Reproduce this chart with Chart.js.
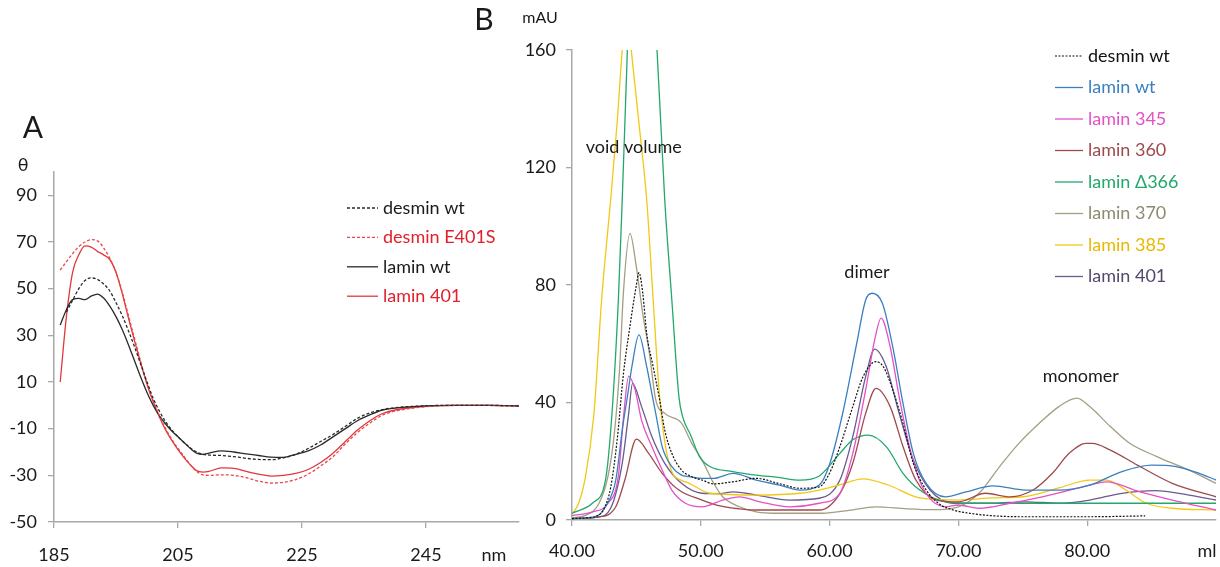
<!DOCTYPE html>
<html>
<head>
<meta charset="utf-8">
<script src="https://cdn.jsdelivr.net/npm/chart.js@4.4.1/dist/chart.umd.min.js"></script>
<style>
  body { margin: 0; background: #fff; }
  #wrap { position: relative; width: 1220px; height: 567px; overflow: hidden; }
  canvas { position: absolute; top: 0; }
  #cdA { left: 0; }
  #cdB { left: 460px; }
</style>
</head>
<body>
<div id="wrap">
  <canvas id="cdA" width="530" height="567"></canvas>
  <canvas id="cdB" width="760" height="567"></canvas>
</div>
<script>
const FONT = "Lato, 'DejaVu Sans', sans-serif";

// ---- panel A : CD spectra (theta vs nm) ----
const nmA = [186,187,188,189,190,191,192,193,194,195,196,197,198,199,200,201,202,203,204,205,206,207,208,209,210,
             212,214,216,218,220,222,224,226,228,230,232,234,236,238,240,245,250,255,260];
const desminWtA = [null,40,45,50,53.5,54.6,54,52,49,44,38.5,32,25,17.5,10,3,-2.5,-7,-10.5,-13.5,-16,-18.3,-20,-21,-21.3,
             -21.5,-22,-22.7,-23.2,-23.3,-22.5,-21,-18.5,-15.5,-12.5,-9,-5.5,-3.2,-1.8,-1,-0.2,0,0,-0.3];
const desminE401S = [58,61.5,65,68,70,71,70.5,67.5,63,57,48.5,38.5,28.5,18.5,9.5,2,-4.5,-10,-14.5,-18.5,-22,-25.5,-28.3,-29.8,-30,
             -29.8,-30,-31,-32.5,-33.3,-33,-31.8,-29.5,-26,-22,-16.5,-11.5,-7.5,-4.2,-2.5,-0.6,0,0,-0.3];
const laminWtA = [34.4,41,45.3,45.8,45.3,46.8,47.7,46,42.5,38,32.5,26,19,12,5.5,0,-4.5,-8,-11,-13.5,-16,-18.5,-20.5,-21,-20.5,
             -19.5,-20,-20.8,-21.5,-22.2,-22.3,-21,-19.5,-17,-13.5,-10,-6.5,-4,-2,-1.2,-0.2,0,0,-0.2];
const lamin401A = [10,38,57,64.5,68.3,67.8,66,64.5,62.5,57,48,37.5,27.5,18,9,1.5,-5,-10.5,-15,-19,-22.5,-25.5,-28,-28.6,-28.3,
             -26.8,-27,-28.3,-29.5,-30.3,-30,-29.2,-27.5,-24.5,-20.5,-15.5,-10.5,-6.5,-3.5,-2,-0.4,0,0,-0.2];
const xTicksA = [185, 205, 225, 245];
const yTicksA = [-50, -30, -10, 10, 30, 50, 70, 90];

// ---- panel B : gel filtration (mAU vs ml) ----
const desminWtX = [40,41,42,42.5,43,43.5,44,44.5,45,45.2,45.5,45.8,46.3,46.8,47.2,47.75,48.5,49.3,50.1,51,
                   52.5,54.3,56,57.7,59.2,60,60.8,61.8,62.6,63.6,64.2,64.9,65.7,66.5,67.5,68.5,69.6,71,72.5,75,80,84.5];
const desminWtY = [0.5,0.7,1.5,4,11,27,50,66,80,84.2,77,63.5,52.2,41,30.6,22.7,17,14.7,13.6,12.3,
                   13,14.2,12.5,10.8,11.3,16,25,38.6,48.8,53.9,52,44.3,32.9,19.3,10.2,5.5,3.4,2.2,1.5,1.1,1.1,1.4];

const laminWtX = [40,41,42,42.6,43.4,43.9,44.3,44.65,45.2,45.8,46.3,46.5,47,47.75,48.5,49.1,50.1,51,52.5,54.3,
                  56.1,57.7,59.2,60,61,62.1,62.8,63.3,64.1,64.9,65.7,66.5,67.5,69,70.6,72.7,75.2,77.8,80.2,82.7,85,86.9,88.7,90];
const laminWtY = [0.5,0.7,1.5,4.5,13.6,30.6,42,52.2,63,52.2,40.8,36.3,25,18.2,15.3,14.8,14.2,14.2,15.9,13.6,
                  11.9,10.2,11.9,19,36,60,74.9,77.2,73.8,59,39.7,22.7,12.5,7.9,9.6,11.6,10.2,10.2,11.9,16.5,18.7,18.2,15.9,13.6];

const lamin345X = [40,41.6,42.8,43.6,44,44.4,44.9,45.4,46.2,47,47.75,48.8,50.1,51.7,53,54.6,56.9,59.2,60.8,61.8,
                   62.8,63.5,64,64.7,65.4,66.2,67.2,69,70,71.6,74,76.5,78.5,80.2,81.5,84.1,86.6,90];
const lamin345Y = [1.5,2.8,5.7,15,35,49,44.3,34,25,17,10.2,5.7,4.5,6.8,7.9,6.2,4.5,5.7,9.1,22.7,
                   44.3,61.3,68.7,59,42,25,11.3,4.5,5.1,4,5.7,7.9,10,11.9,13,9.6,6.8,3.4];

const lamin360X = [40,42,43.4,44.1,45,45.95,47,48.3,50.1,51.5,53,54.3,57,59.2,60.8,61.8,62.8,63.6,64.7,65.7,
                   66.7,68.3,70,72.1,74,75.8,77.3,78.6,79.9,80.4,81.8,84.1,86.6,90];
const lamin360Y = [0.5,1,4.5,13.6,27.5,22.7,15.9,10.2,6.8,4.8,3.8,3.4,3.4,3.4,9,19.3,36.3,44.8,38.6,25,
                   13.6,6.8,6.2,9.1,7.9,10.2,15.9,22.7,26.1,26.1,23.8,18.2,12.5,7.9];

const lamin366X = [40,41.6,42.6,43.1,43.6,43.9,44.3,44.8,45.4,46,46.6,47.2,47.75,48.3,48.6,49.2,49.9,50.7,52.5,54.3,
                   56,57.7,59.2,60.8,61.8,63,64.4,65.7,67,69,71,75,80,85,90];
const lamin366Y = [2.3,5.8,13.6,36,75,109,160,220,250,225,160,109,75,42,35,29,21.6,18.2,16.5,15.3,
                   14.5,13.6,15,22.7,27.3,28.9,25,15.9,10.2,6.2,5.7,5.7,5.7,5.7,5.7];

const lamin370X = [40,41,42.1,42.8,43.3,43.7,44,44.5,45,45.5,46,46.5,47.2,48.5,49.3,50.1,51,51.7,53,54.3,
                   56,59.5,61.5,63.6,66,68,70,71.6,73.2,74.7,76.3,77.8,79.2,80.2,81.8,83.3,85.4,87.9,90];
const lamin370Y = [0.8,1.5,5.7,15,30,52,78,97.6,86,70,57,41,36.3,33,26.1,20.4,12.5,7.9,4.5,2.8,
                   2.3,2.3,3.3,4.5,3.8,3.5,4.5,9.1,18.2,26.1,33,38.6,41.5,38.6,31.8,26.1,21.6,17,12.5];

const lamin385X = [40,40.5,41,41.7,42.3,43,43.5,43.9,44.25,44.6,45.2,45.8,46.3,46.8,47.3,47.8,48.5,49.1,50.7,54.3,
                   57.7,59.2,60.8,62.6,64.5,67,70,72.6,75.2,77.8,80.2,81.5,83,84.6,86.6,90];
const lamin385Y = [2,5.5,13.6,36,75,109,135,160,175,160,135,109,75,42,24,16,13.5,12.5,9.1,8.5,
                   9.1,10.2,12,14,12,7.5,6.8,7.5,8,10.9,13.6,13.6,10.2,5.7,4,3.4];

const lamin401X = [40,42,43,43.9,44.4,44.7,45.4,46.2,47.2,48.5,50.1,51.5,52.5,54.3,56.9,59.2,60.8,61.8,62.8,63.5,
                   64.4,65.4,66.5,67.8,69.6,72.7,75.2,77.8,80.2,82.7,85.3,87.9,90];
const lamin401Y = [0.5,1,4,19.3,36.3,46.5,38.6,28.4,19.3,12.5,9.1,9,9.6,8.5,6.8,7.4,13.6,28.4,48.8,58.2,
                   52.2,36.3,20.4,10.2,5.7,5.7,6.2,5.7,6.8,9.1,10,8.5,6.8];

const xTicksB = [40, 50, 60, 70, 80];
const yTicksB = [0, 40, 80, 120, 160];

function pts(xs, ys) {
  return xs.map((x, i) => ({ x: x, y: ys[i] }));
}

// extra texts and a hand drawn legend, config kept in the closure
function textPlugin(items, lg) {
  return {
    id: 'extraText',
    afterDraw(chart) {
      const ctx = chart.ctx;
      ctx.save();
      ctx.textBaseline = 'middle';
      items.forEach(t => {
        let x = t.px, y = t.py;
        if (t.at) {
          x = chart.scales.x.getPixelForValue(t.at[0]);
          y = chart.scales.y.getPixelForValue(t.at[1]);
        }
        ctx.font = t.font;
        ctx.fillStyle = '#1a1a1a';
        ctx.textAlign = 'center';
        ctx.fillText(t.text, x, y);
      });
      chart.data.datasets.forEach((ds, i) => {
        const y = lg.y + i * lg.rowH;
        ctx.strokeStyle = ds.borderColor;
        ctx.lineWidth = ds.borderWidth || 1.3;
        ctx.setLineDash(ds.borderDash || []);
        ctx.beginPath();
        ctx.moveTo(lg.x, y);
        ctx.lineTo(lg.x + lg.len, y);
        ctx.stroke();
        ctx.setLineDash([]);
        ctx.font = lg.font;
        ctx.textAlign = 'left';
        ctx.fillStyle = ds.textColor || ds.borderColor;
        ctx.fillText(ds.label, lg.x + lg.len + lg.gap, y);
      });
      ctx.restore();
    }
  };
}

function axisCommon(min, max, list, fmt, pad, fit) {
  return {
    type: 'linear', min: min, max: max,
    afterBuildTicks: s => { s.ticks = list.map(v => ({ value: v })); },
    afterFit: fit,
    grid: { drawOnChartArea: false, tickLength: 6, color: '#a8a8a8', lineWidth: 1.3 },
    border: { color: '#a8a8a8', width: 1.5 },
    ticks: { color: '#1a1a1a', font: { family: FONT, size: 18 }, padding: pad,
             maxRotation: 0, autoSkip: false, callback: fmt }
  };
}

// chart A
new Chart(document.getElementById('cdA'), {
  type: 'line',
  data: {
    datasets: [
      { label: 'desmin wt', data: pts(nmA, desminWtA), borderColor: '#2a2a2a', borderDash: [3, 2], textColor: '#1a1a1a' },
      { label: 'desmin E401S', data: pts(nmA, desminE401S), borderColor: '#e8474a', borderDash: [3, 2], textColor: '#e0202a' },
      { label: 'lamin wt', data: pts(nmA, laminWtA), borderColor: '#2a2a2a', textColor: '#1a1a1a' },
      { label: 'lamin 401', data: pts(nmA, lamin401A), borderColor: '#e0383c', textColor: '#e0202a' }
    ]
  },
  plugins: [textPlugin([
    { text: 'A', px: 33, py: 128, font: '30px ' + FONT },
    { text: 'θ', px: 23, py: 165, font: '18px ' + FONT },
    { text: 'nm', px: 494, py: 555, font: '18px ' + FONT }
  ], { x: 347, y: 208, rowH: 29.4, len: 31, gap: 5, font: '18px ' + FONT })],
  options: {
    responsive: false, animation: false, devicePixelRatio: 1,
    layout: { padding: { top: 172, right: 11, left: 0, bottom: 0 } },
    elements: { point: { radius: 0 }, line: { borderWidth: 1.3, cubicInterpolationMode: 'monotone' } },
    plugins: { legend: { display: false }, tooltip: { enabled: false } },
    scales: {
      x: axisCommon(185, 260, xTicksA, v => v, 16, s => { s.height = 45; }),
      y: axisCommon(-50, 100, yTicksA, v => v, 11, s => { s.width = 54; })
    }
  }
});

// chart B
new Chart(document.getElementById('cdB'), {
  type: 'line',
  data: {
    datasets: [
      { label: 'desmin wt', data: pts(desminWtX, desminWtY), borderColor: '#111111', borderDash: [2, 1.5], borderWidth: 1.2 },
      { label: 'lamin wt', data: pts(laminWtX, laminWtY), borderColor: '#3a80c0' },
      { label: 'lamin 345', data: pts(lamin345X, lamin345Y), borderColor: '#e450c8' },
      { label: 'lamin 360', data: pts(lamin360X, lamin360Y), borderColor: '#9e4a4c' },
      { label: 'lamin Δ366', data: pts(lamin366X, lamin366Y), borderColor: '#22a86c' },
      { label: 'lamin 370', data: pts(lamin370X, lamin370Y), borderColor: '#a39e84', textColor: '#8f8a70' },
      { label: 'lamin 385', data: pts(lamin385X, lamin385Y), borderColor: '#f2c814', textColor: '#eab800' },
      { label: 'lamin 401', data: pts(lamin401X, lamin401Y), borderColor: '#6a5a8e', textColor: '#55486e' }
    ]
  },
  plugins: [textPlugin([
    { text: 'B', px: 24, py: 20, font: '30px ' + FONT },
    { text: 'mAU', px: 80, py: 18, font: '16px ' + FONT },
    { text: 'ml', px: 747, py: 551, font: '18px ' + FONT },
    { text: 'void volume', at: [44.8, 127], font: '18px ' + FONT },
    { text: 'dimer', at: [62.9, 84.4], font: '18px ' + FONT },
    { text: 'monomer', at: [79.5, 49], font: '18px ' + FONT }
  ], { x: 595, y: 56, rowH: 31.5, len: 28, gap: 5, font: '18px ' + FONT })],
  options: {
    responsive: false, animation: false, devicePixelRatio: 1,
    layout: { padding: { top: 50, right: 4, left: 0, bottom: 0 } },
    elements: { point: { radius: 0 }, line: { borderWidth: 1.3, cubicInterpolationMode: 'monotone' } },
    plugins: { legend: { display: false }, tooltip: { enabled: false } },
    scales: {
      x: axisCommon(40, 90, xTicksB, v => v.toFixed(2), 14, s => { s.height = 47; }),
      y: axisCommon(0, 160, yTicksB, v => v, 10, s => { s.width = 112; })
    }
  }
});
</script>
</body>
</html>
